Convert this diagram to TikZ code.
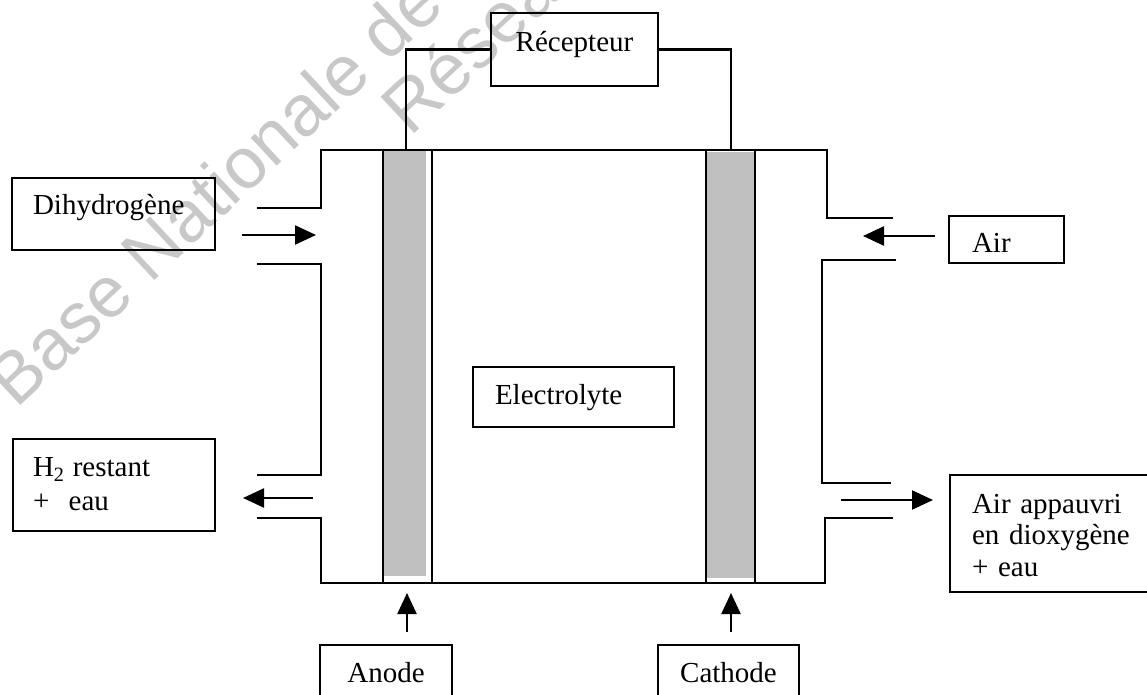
\documentclass[tikz,border=0pt]{standalone}
\usepackage{fontspec}
\setmainfont{Liberation Serif}
\newfontfamily\wmfont{Liberation Sans}
\usetikzlibrary{arrows.meta}
\definecolor{elec}{RGB}{192,192,192}
\definecolor{wmgray}{RGB}{200,200,200}
\tikzset{
  wall/.style={line width=1.2pt, line join=miter},
  thinline/.style={line width=0.7pt},
  box/.style={draw, line width=1.2pt, anchor=north west, inner ysep=0pt, outer sep=0pt, align=left},
  cbox/.style={box, align=center, inner xsep=0pt},
  flow/.style={line width=1.2pt, -{Triangle[length=10.5pt,width=9.5pt]}},
  wm/.style={text=wmgray, font=\wmfont\fontsize{36}{39}\selectfont, inner sep=0pt},
}
\begin{document}
\begin{tikzpicture}[x=0.5pt,y=-0.5pt, font=\fontsize{14.5}{17}\selectfont]
\useasboundingbox (0,0) rectangle (1147,695);
\clip (0,0) rectangle (1147,695);
\fill[white] (0,0) rectangle (1147,695);

% watermark
\node[wm, anchor=base west, rotate=43] (wm1) at (16,410) {Base Nationale de};
\node[wm, anchor=base west, rotate=43] (wm2) at (410,138) {Réseau};

% electrodes
\fill[elec] (383,150) rectangle (426,576);
\fill[elec] (706,152) rectangle (754,578);
\draw[thinline] (383,150) -- (383,583);
\draw[thinline] (706,150) -- (706,583);
\draw[wall] (432,150) -- (432,583);
\draw[wall] (755,150) -- (755,583);

% cell walls
\draw[wall] (257,208) -- (321,208) -- (321,150) -- (827,150) -- (827,218) -- (893,218);
\draw[wall] (257,264) -- (321,264) -- (321,475) -- (257,475);
\draw[wall] (257,518) -- (321,518) -- (321,583) -- (825,583) -- (825,518) -- (893,518);
\draw[wall] (896,260) -- (822,260) -- (822,483) -- (891,483);

% boxes
\node[cbox, text width=83.5pt, text height=19.5pt, text depth=17pt] (rec) at (491,13) {Récepteur};
\node[box, text width=80.5pt, inner xsep=10.5pt, text height=18.5pt, text depth=17.5pt] (dihy) at (12,178) {Dihydrogène};
\node[box, text width=81pt, inner xsep=10pt, text height=19pt, text depth=27pt] (h2out) at (13,439) {H\textsubscript{2}\kern-1pt\ restant\\+\ \ eau};
\node[box, text width=34.5pt, inner xsep=11.5pt, text height=18.5pt, text depth=5pt] (air) at (949,216) {Air};
\node[box, text width=90pt, inner xsep=11pt, text height=19pt, text depth=39.5pt, font=\fontsize{14.5}{16}\selectfont] (airout) at (950,475) {Air appauvri\\en dioxygène\\+ eau};
\node[box, text width=78.5pt, inner xsep=11pt, text height=19pt, text depth=11pt] (elyte) at (473,367) {Electrolyte};
\node[cbox, text width=66pt, text height=18.5pt, text depth=30pt] (anode) at (320,645) {Anode};
\node[cbox, text width=70.5pt, text height=18.5pt, text depth=30pt] (cathode) at (658,645) {Cathode};

% wires to receiver
\coordinate (aw) at (406,150);
\coordinate (cw) at (731,150);
\draw[wall] (aw) |- (rec.west);
\draw[wall] (rec.east) -| (cw);

% flow arrows
\coordinate (h2a) at (242,235); \coordinate (h2b) at (316,235);
\coordinate (h2c) at (313,498); \coordinate (h2d) at (243,498);
\coordinate (aia) at (935,236); \coordinate (aib) at (863,236);
\coordinate (aoa) at (841,500); \coordinate (aob) at (933,500);
\coordinate (ana) at (407,632); \coordinate (anb) at (407,593);
\coordinate (caa) at (731,632); \coordinate (cab) at (731,593);
\draw[flow] (h2a) -- (h2b);
\draw[flow] (h2c) -- (h2d);
\draw[flow] (aia) -- (aib);
\draw[flow] (aoa) -- (aob);
\draw[flow] (ana) -- (anb);
\draw[flow] (caa) -- (cab);
\end{tikzpicture}
\end{document}
